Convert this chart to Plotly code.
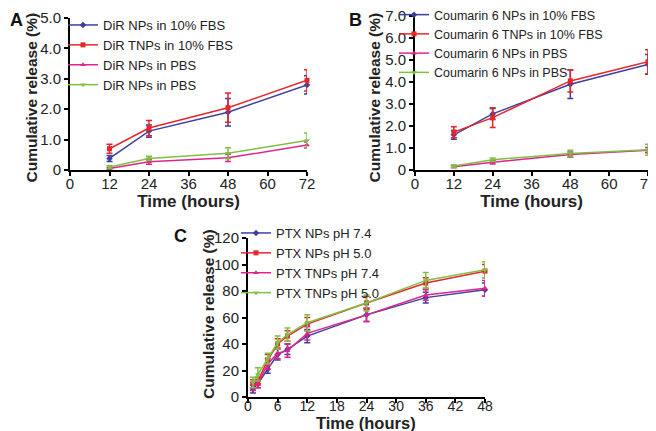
import plotly.graph_objects as go

# Panel A - DiR release
a_time = [12, 24, 48, 72]
a_names = ["DiR NPs in 10% FBS", "DiR TNPs in 10% FBS", "DiR NPs in PBS", "DiR NPs in PBS"]
a_vals = [
    [0.38, 1.28, 1.90, 2.80],
    [0.70, 1.38, 2.05, 2.95],
    [0.05, 0.27, 0.40, 0.82],
    [0.10, 0.38, 0.55, 0.97],
]
a_err = [
    [0.10, 0.20, 0.45, 0.30],
    [0.15, 0.25, 0.48, 0.35],
    [0.03, 0.08, 0.12, 0.10],
    [0.05, 0.07, 0.18, 0.25],
]

# Panel B - Coumarin 6 release
b_time = [12, 24, 48, 72]
b_names = ["Coumarin 6 NPs in 10% FBS", "Coumarin 6 TNPs in 10% FBS",
           "Coumarin 6 NPs in PBS", "Coumarin 6 NPs in PBS"]
b_vals = [
    [1.60, 2.55, 3.90, 4.80],
    [1.72, 2.38, 4.05, 4.92],
    [0.15, 0.35, 0.70, 0.90],
    [0.18, 0.47, 0.75, 0.92],
]
b_err = [
    [0.20, 0.25, 0.65, 0.45],
    [0.25, 0.45, 0.50, 0.55],
    [0.05, 0.08, 0.12, 0.12],
    [0.05, 0.08, 0.15, 0.25],
]

# Panel C - PTX release
c_time = [1, 2, 4, 6, 8, 12, 24, 36, 48]
c_names = ["PTX NPs pH 7.4", "PTX NPs pH 5.0", "PTX TNPs pH 7.4", "PTX TNPs pH 5.0"]
c_vals = [
    [6, 10, 21, 32, 36, 46, 62, 75, 81],
    [10, 12, 28, 40, 46, 55, 71, 86, 95],
    [8, 10, 25, 33, 35, 48, 62, 77, 82],
    [11, 17, 29, 41, 47, 56, 71, 88, 96],
]
c_err = [
    [3, 3, 3, 4, 4, 5, 5, 4, 5],
    [3, 3, 4, 4, 4, 5, 5, 4, 5],
    [3, 3, 4, 4, 5, 5, 5, 4, 6],
    [4, 5, 4, 5, 5, 6, 6, 6, 6],
]

colors = ["#3b3f9e", "#e8262a", "#e0248c", "#7dc143"]
symbols = ["diamond", "square", "triangle-up", "triangle-down"]
FONT = "Arial, Liberation Sans, sans-serif"
INK = "#222"

# page is shown with an 8px body margin, so the figure is drawn 8px in
W, H = 648, 423

def px(x):
    return (x - 8) / W

def py(y):
    return 1 - (y - 8) / H

fig = go.Figure()

panels = [
    (a_time, a_names, a_vals, a_err, "x", "y", "legend"),
    (b_time, b_names, b_vals, b_err, "x2", "y2", "legend2"),
    (c_time, c_names, c_vals, c_err, "x3", "y3", "legend3"),
]
for t, names, vals, errs, xa, ya, lg in panels:
    for i in range(4):
        fig.add_trace(go.Scatter(
            x=t, y=vals[i], name=names[i], mode="lines+markers",
            line=dict(color=colors[i], width=1.5),
            marker=dict(color=colors[i], symbol=symbols[i], size=5),
            error_y=dict(type="data", array=errs[i], color=colors[i],
                         thickness=1.5, width=3),
            xaxis=xa, yaxis=ya, legend=lg, cliponaxis=False,
        ))

ax_common = dict(showline=True, linecolor="black", linewidth=2, ticks="outside",
                 ticklen=4, tickwidth=1.5, tickcolor="black", showgrid=False,
                 zeroline=False, automargin=False, ticklabeloverflow="allow",
                 tickfont=dict(size=15, color=INK, family=FONT))

def yt(vals):
    return [("0" if v == 0 else f"{v:.1f}") for v in vals]

ya_ticks = [0, 1, 2, 3, 4, 5]
yb_ticks = [0, 1, 2, 3, 4, 5, 6, 7]
yc_ticks = [0, 20, 40, 60, 80, 100, 120]
x_ticks_ab = [0, 12, 24, 36, 48, 60, 72]
x_ticks_c = [0, 6, 12, 18, 24, 30, 36, 42, 48]

xtitle = dict(text="<b>Time (hours)</b>", font=dict(size=17, color=INK, family=FONT), standoff=1)
legfont = dict(size=13, color=INK, family=FONT)

fig.update_layout(
    width=W, height=H,
    margin=dict(l=0, r=0, t=0, b=0, autoexpand=False),
    paper_bgcolor="white", plot_bgcolor="white",
    xaxis=dict(domain=[px(70), px(307)], range=[0, 72], tickvals=x_ticks_ab,
               anchor="y", title=xtitle, ticklabelstandoff=-5, **ax_common),
    yaxis=dict(domain=[py(170), py(18)], range=[0, 5], tickvals=ya_ticks,
               ticktext=yt(ya_ticks), anchor="x", **ax_common),
    xaxis2=dict(domain=[px(415), px(648)], range=[0, 72], tickvals=x_ticks_ab,
                anchor="y2", title=xtitle, ticklabelstandoff=-5, **ax_common),
    yaxis2=dict(domain=[py(170), py(16)], range=[0, 7], tickvals=yb_ticks,
                ticktext=yt(yb_ticks), anchor="x2", **ax_common),
    xaxis3=dict(domain=[px(248), px(485)], range=[0, 48], tickvals=x_ticks_c,
                anchor="y3", ticklabelstandoff=-9,
                **dict(ax_common, tickfont=dict(size=14, color=INK, family=FONT))),
    yaxis3=dict(domain=[py(397), py(238)], range=[0, 120], tickvals=yc_ticks,
                anchor="x3", **ax_common),
    legend=dict(x=px(63), y=py(10), xanchor="left", yanchor="top",
                bgcolor="rgba(0,0,0,0)", font=legfont, tracegroupgap=0),
    legend2=dict(x=px(394), y=py(0), xanchor="left", yanchor="top",
                 bgcolor="rgba(0,0,0,0)", font=dict(legfont, size=12.5), tracegroupgap=0),
    legend3=dict(x=px(236), y=py(218), xanchor="left", yanchor="top",
                 bgcolor="rgba(0,0,0,0)", font=legfont, tracegroupgap=0),
    showlegend=True,
)

# y-axis titles, panel C x-axis title and panel letters
for tx, ty in [(31.5, 98), (374.5, 98), (208, 314)]:
    fig.add_annotation(text="<b>Cumulative release (%)</b>", x=px(tx), y=py(ty),
                       xref="paper", yref="paper", textangle=-90, showarrow=False,
                       xanchor="center", yanchor="middle",
                       font=dict(size=15.5, color=INK, family=FONT))

fig.add_annotation(text="<b>Time (hours)</b>", x=px(366), y=py(423),
                   xref="paper", yref="paper", showarrow=False,
                   xanchor="center", yanchor="middle",
                   font=dict(size=16.5, color=INK, family=FONT))

for label, lx, ly in [("A", 8, 8), ("B", 347, 8), ("C", 172, 224)]:
    fig.add_annotation(text=f"<b>{label}</b>", x=px(lx), y=py(ly),
                       xref="paper", yref="paper", xanchor="left", yanchor="top",
                       showarrow=False,
                       font=dict(size=18, color="#111", family=FONT))

fig.write_html("out.html")
